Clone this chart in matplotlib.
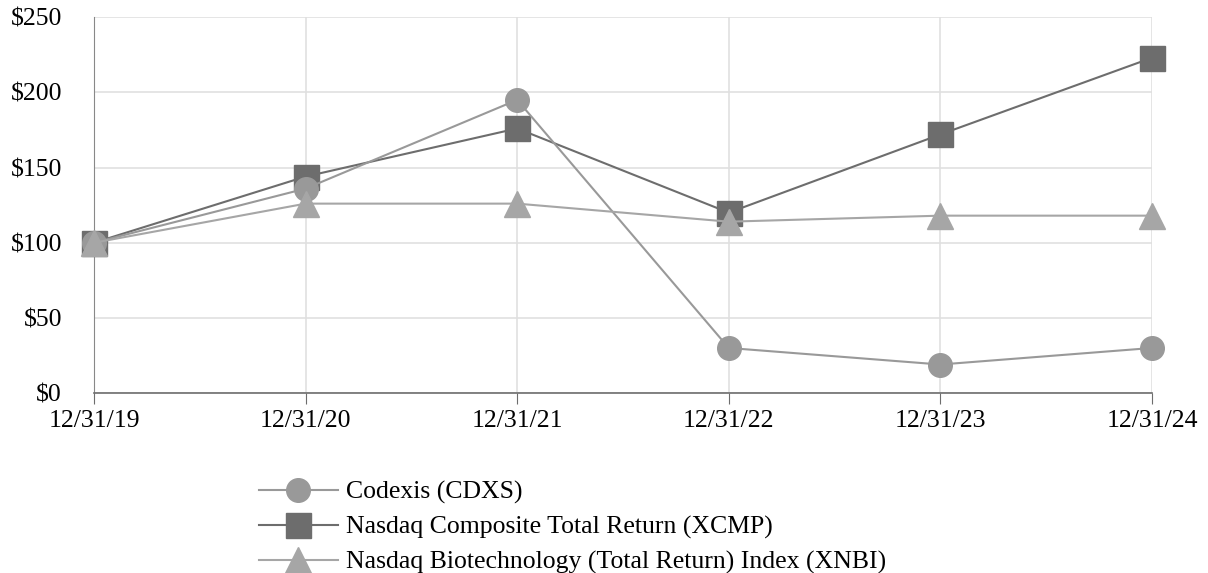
import numpy as np
import matplotlib.pyplot as plt

plt.rcParams['font.family'] = ['Liberation Serif', 'DejaVu Serif']

dates = ['12/31/19', '12/31/20', '12/31/21', '12/31/22', '12/31/23', '12/31/24']
cdxs = [100, 136, 195, 30, 19, 30]
xcmp = [100, 144, 176, 120, 172, 223]
xnbi = [100, 126, 126, 114, 118, 118]

fig = plt.figure(figsize=(12.08, 5.73), dpi=100)
ax = fig.add_axes([0.0778, 0.314, 0.8758, 0.656])

x = np.arange(len(dates))
l1, = ax.plot(x, cdxs, color='#999999', lw=1.5, marker='o', ms=17, clip_on=False,
              label='Codexis (CDXS)')
l2, = ax.plot(x, xcmp, color='#6d6d6d', lw=1.5, marker='s', ms=18, clip_on=False,
              label='Nasdaq Composite Total Return (XCMP)')
l3, = ax.plot(x, xnbi, color='#a6a6a6', lw=1.5, marker='^', ms=19, clip_on=False,
              label='Nasdaq Biotechnology (Total Return) Index (XNBI)')
# draw order: triangles on top
l2.set_zorder(3)
l1.set_zorder(4)
l3.set_zorder(5)

ax.set_xlim(0, 5)
ax.set_ylim(0, 250)
ax.set_xticks(x)
ax.set_xticklabels(dates)
ax.set_yticks(np.arange(0, 251, 50))
ax.set_yticklabels(['$%d' % v for v in range(0, 251, 50)])
ax.tick_params(axis='both', labelsize=18.5)
ax.tick_params(axis='y', length=0, pad=23)
ax.tick_params(axis='x', length=8, color='#6d6d6d', pad=4)
ax.grid(True, color='#e0e0e0', lw=1.2)
ax.set_axisbelow(True)
for s in ['top', 'right']:
    ax.spines[s].set_visible(False)
ax.spines['left'].set_color('#888888')
ax.spines['bottom'].set_color('#6d6d6d')
ax.spines['bottom'].set_linewidth(1.2)

fig.legend(handles=[l1, l2, l3], loc='upper left', bbox_to_anchor=(0.214, 0.161),
           frameon=False, fontsize=18.5, handlelength=3.1, handletextpad=0.3,
           labelspacing=0.45, borderaxespad=0, borderpad=0)

fig.savefig('out.png', dpi=100)
